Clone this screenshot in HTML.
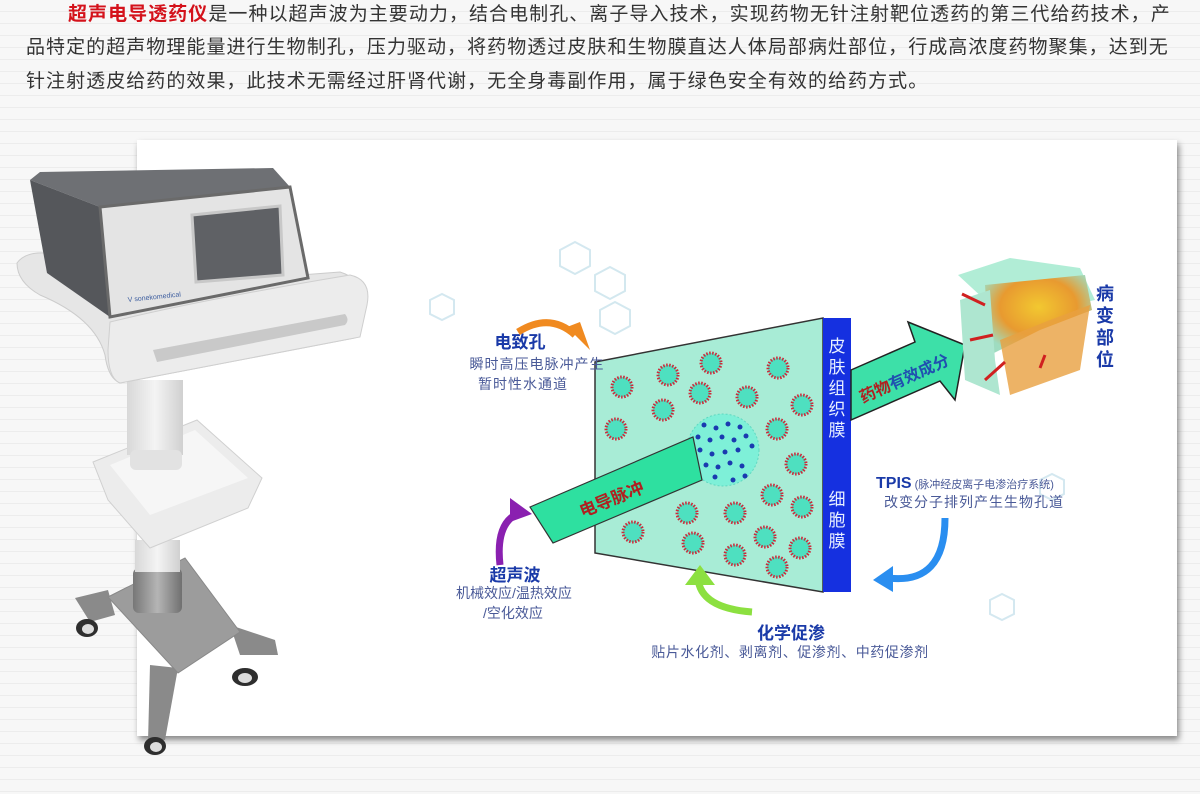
<!DOCTYPE html>
<html><head><meta charset="utf-8"><style>
html,body{margin:0;padding:0}
body{width:1200px;height:794px;overflow:hidden;position:relative;font-family:"Liberation Sans","Noto Sans CJK SC",sans-serif;
background:repeating-linear-gradient(180deg,#f7f7f7 0,#f7f7f7 11px,#ececec 11px,#ececec 12px);}
.t{position:absolute;left:26px;font-size:19px;letter-spacing:1.05px;color:#333;white-space:nowrap;line-height:24px}
.panel{position:absolute;left:137px;top:140px;width:1040px;height:596px;background:#fff;box-shadow:2px 4px 6px rgba(0,0,0,.45)}
</style></head><body>
<div class="t" style="top:3px;left:68px"><span style="color:#d4121b;font-weight:bold">超声电导透药仪</span>是一种以超声波为主要动力，结合电制孔、离子导入技术，实现药物无针注射靶位透药的第三代给药技术，产</div>
<div class="t" style="top:36px">品特定的超声物理能量进行生物制孔，压力驱动，将药物透过皮肤和生物膜直达人体局部病灶部位，行成高浓度药物聚集，达到无</div>
<div class="t" style="top:70px">针注射透皮给药的效果，此技术无需经过肝肾代谢，无全身毒副作用，属于绿色安全有效的给药方式。</div>
<div class="panel"></div>
<svg width="1200" height="794" style="position:absolute;left:0;top:0" font-family="Liberation Sans, Noto Sans CJK SC, sans-serif">
<defs>
<radialGradient id="cube" cx="50%" cy="40%" r="60%"><stop offset="0" stop-color="#f2c830"/><stop offset=".6" stop-color="#e89a30"/><stop offset="1" stop-color="#9fdcc0"/></radialGradient>
<linearGradient id="col" x1="0" x2="1"><stop offset="0" stop-color="#777"/><stop offset=".5" stop-color="#b5b5b5"/><stop offset="1" stop-color="#707070"/></linearGradient>
<linearGradient id="wh" x1="0" x2="1"><stop offset="0" stop-color="#d8d8d8"/><stop offset=".5" stop-color="#f4f4f4"/><stop offset="1" stop-color="#d0d0d0"/></linearGradient>
</defs>
<!-- molecule decorations -->
<g fill="none" stroke="#cfe6ee" stroke-width="2" opacity=".9">
<polygon points="560,250 575,242 590,250 590,266 575,274 560,266"/><polygon points="595,275 610,267 625,275 625,291 610,299 595,291"/>
<polygon points="600,310 615,302 630,310 630,326 615,334 600,326"/><polygon points="430,300 442,294 454,300 454,314 442,320 430,314"/>
<polygon points="990,600 1002,594 1014,600 1014,614 1002,620 990,614"/><polygon points="1040,480 1052,474 1064,480 1064,494 1052,500 1040,494"/>
</g>
<!-- trapezoid -->
<polygon points="595,362 823,318 823,592 595,553" fill="#a8ecd6" stroke="#333" stroke-width="1.5"/>
<rect x="823" y="318" width="28" height="274" fill="#1530e0"/>
<g font-size="17" fill="#e8f0ff" text-anchor="middle">
<text x="837" y="352">皮</text><text x="837" y="373">肤</text><text x="837" y="394">组</text><text x="837" y="415">织</text><text x="837" y="436">膜</text>
<text x="837" y="505">细</text><text x="837" y="526">胞</text><text x="837" y="547">膜</text></g>
<g fill="#4ee0c0" stroke="#cc2a3a" stroke-width="3" stroke-dasharray="1.5 1.5">
<circle cx="622" cy="387" r="10"/><circle cx="668" cy="375" r="10"/><circle cx="711" cy="363" r="10"/><circle cx="778" cy="368" r="10"/>
<circle cx="700" cy="393" r="10"/><circle cx="747" cy="397" r="10"/><circle cx="802" cy="405" r="10"/><circle cx="663" cy="410" r="10"/>
<circle cx="616" cy="429" r="10"/><circle cx="777" cy="429" r="10"/><circle cx="796" cy="464" r="10"/><circle cx="772" cy="495" r="10"/>
<circle cx="802" cy="507" r="10"/><circle cx="687" cy="513" r="10"/><circle cx="735" cy="513" r="10"/><circle cx="633" cy="532" r="10"/>
<circle cx="693" cy="543" r="10"/><circle cx="765" cy="537" r="10"/><circle cx="800" cy="548" r="10"/><circle cx="735" cy="555" r="10"/><circle cx="777" cy="567" r="10"/></g>
<circle cx="723" cy="450" r="36" fill="#7ef0d8" stroke="#5fd8c0" stroke-dasharray="2 2"/>
<g fill="#1a3ab0">
<circle cx="704" cy="425" r="2.5"/><circle cx="716" cy="428" r="2.5"/><circle cx="728" cy="424" r="2.5"/><circle cx="740" cy="427" r="2.5"/>
<circle cx="698" cy="437" r="2.5"/><circle cx="710" cy="440" r="2.5"/><circle cx="722" cy="437" r="2.5"/><circle cx="734" cy="440" r="2.5"/><circle cx="746" cy="436" r="2.5"/>
<circle cx="700" cy="450" r="2.5"/><circle cx="712" cy="454" r="2.5"/><circle cx="725" cy="452" r="2.5"/><circle cx="738" cy="450" r="2.5"/><circle cx="752" cy="446" r="2.5"/>
<circle cx="706" cy="465" r="2.5"/><circle cx="718" cy="467" r="2.5"/><circle cx="730" cy="463" r="2.5"/><circle cx="742" cy="466" r="2.5"/>
<circle cx="715" cy="477" r="2.5"/><circle cx="733" cy="480" r="2.5"/><circle cx="745" cy="476" r="2.5"/></g>
<!-- green band -->
<polygon points="530,507 693,437 702,480 553,543" fill="#2ee0a0" stroke="#333" stroke-width="1.2"/>
<text x="612" y="505" font-size="17" font-weight="bold" fill="#b02020" transform="rotate(-22 612 500)" text-anchor="middle">电导脉冲</text>
<!-- right arrow -->
<polygon points="851,370 915,342 908,322 965,345 955,400 940,381 851,420" fill="#3de0a8" stroke="#222" stroke-width="1.5"/>
<text x="905" y="384" font-size="16" font-weight="bold" fill="#2050b0" transform="rotate(-24 905 380)" text-anchor="middle"><tspan fill="#b02020">药物</tspan>有效成分</text>
<!-- cube -->
<polygon points="958,275 1010,258 1080,268 1095,300 1040,312 985,300" fill="#9ee8cc" opacity=".8"/>
<polygon points="985,285 1085,275 1092,310 1040,330 990,355" fill="url(#cube)"/>
<polygon points="960,300 990,290 995,360 1000,395 965,380" fill="#aee6d0"/>
<polygon points="1000,340 1050,320 1090,305 1080,370 1010,395" fill="#e8a040" opacity=".8"/>
<g stroke="#d02020" stroke-width="3"><line x1="962" y1="294" x2="985" y2="305"/><line x1="970" y1="340" x2="993" y2="335"/><line x1="985" y1="380" x2="1005" y2="362"/><line x1="1040" y1="368" x2="1045" y2="355"/></g>
<g font-size="18" font-weight="bold" fill="#1a3aa8" text-anchor="middle"><text x="1105" y="300">病</text><text x="1105" y="322">变</text><text x="1105" y="344">部</text><text x="1105" y="366">位</text></g>
<!-- labels -->
<text x="520" y="348" font-size="17" font-weight="bold" fill="#1a3aa8" text-anchor="middle">电致孔</text>
<text x="537" y="369" font-size="14" fill="#4a5a98" text-anchor="middle" letter-spacing="1">瞬时高压电脉冲产生</text>
<text x="523" y="389" font-size="14" fill="#4a5a98" text-anchor="middle" letter-spacing="1">暂时性水通道</text>
<text x="515" y="581" font-size="17" font-weight="bold" fill="#1a3aa8" text-anchor="middle">超声波</text>
<text x="514" y="598" font-size="14" fill="#4a5a98" text-anchor="middle">机械效应/温热效应</text>
<text x="513" y="618" font-size="14" fill="#4a5a98" text-anchor="middle">/空化效应</text>
<text x="791" y="639" font-size="17" font-weight="bold" fill="#1a3aa8" text-anchor="middle">化学促渗</text>
<text x="790" y="657" font-size="14" fill="#4a5a98" text-anchor="middle" letter-spacing="0.6">贴片水化剂、剥离剂、促渗剂、中药促渗剂</text>
<text x="876" y="488" font-size="16" font-weight="bold" fill="#1a3aa8">TPIS<tspan font-size="11" font-weight="normal" fill="#4a5a98"> (脉冲经皮离子电渗治疗系统)</tspan></text>
<text x="884" y="507" font-size="14" fill="#4a5a98" letter-spacing="1">改变分子排列产生生物孔道</text>
<!-- curved arrows -->
<path d="M518,332 Q550,312 575,335" fill="none" stroke="#f08a20" stroke-width="7"/><polygon points="567,327 590,350 580,322" fill="#f08a20"/>
<path d="M500,565 Q495,520 522,512" fill="none" stroke="#8a20b0" stroke-width="7"/><polygon points="510,498 532,514 510,522" fill="#8a20b0"/>
<path d="M752,612 Q700,608 698,578" fill="none" stroke="#8ce040" stroke-width="7"/><polygon points="685,585 700,565 715,585" fill="#8ce040"/>
<path d="M945,518 Q945,585 888,578" fill="none" stroke="#2a8ef0" stroke-width="7"/><polygon points="893,566 873,580 893,592" fill="#2a8ef0"/>
<!-- device -->
<!-- base -->
<polygon points="75,598 108,590 115,615 90,622" fill="#8a8a8a"/>
<polygon points="230,625 275,640 278,655 240,655" fill="#8a8a8a"/>
<polygon points="150,665 178,668 165,740 148,742" fill="#8a8a8a"/>
<polygon points="108,597 185,558 240,632 178,673" fill="#9c9c9c" stroke="#888"/>
<g fill="#2e2e2e"><ellipse cx="87" cy="628" rx="11" ry="9"/><ellipse cx="245" cy="677" rx="13" ry="9"/><ellipse cx="155" cy="746" rx="11" ry="9"/></g>
<g fill="#ddd"><ellipse cx="88" cy="629" rx="6" ry="5"/><ellipse cx="245" cy="678" rx="7" ry="5"/><ellipse cx="156" cy="747" rx="6" ry="5"/></g>
<rect x="133" y="568" width="49" height="45" rx="6" fill="url(#col)"/>
<rect x="135" y="540" width="45" height="32" fill="url(#wh)"/>
<!-- basket -->
<polygon points="93,462 197,420 262,478 248,508 150,548 108,500" fill="#ececec" stroke="#d0d0d0"/>
<polygon points="110,465 195,430 248,478 150,515" fill="#f6f6f6"/>
<!-- upper column -->
<rect x="127" y="380" width="56" height="75" fill="url(#wh)"/>
<rect x="130" y="450" width="52" height="20" rx="6" fill="#e2e2e2"/>
<!-- tray back -->
<path d="M17,263 Q25,252 45,253 L100,290 L340,272 Q360,278 365,300 L355,338 L120,383 Q108,378 105,355 Q95,318 40,295 Q17,282 17,263 Z" fill="#e6e6e6" stroke="#ccc"/>
<!-- box -->
<polygon points="30,180 40,172 273,168 290,187 100,207" fill="#6e7074"/>
<polygon points="30,180 100,207 110,317 47,273" fill="#55575b"/>
<polygon points="100,207 290,187 308,278 110,317" fill="#e4e4e4" stroke="#6a6a6a" stroke-width="3"/>
<polygon points="192,215 280,206 283,275 196,282" fill="#5f6165" stroke="#c8c8c8" stroke-width="3"/>
<text x="128" y="302" font-size="7" fill="#4060a0" transform="rotate(-6 128 302)">V sonekomedical</text>
<!-- handle front -->
<path d="M110,322 Q200,300 350,275 Q372,280 367,305 L360,337 L120,383 Q108,378 108,350 Z" fill="#ececec" stroke="#cfcfcf"/>
<path d="M153,350 L345,314 Q350,320 345,325 L157,362 Z" fill="#c9c9c9"/>
</svg>
</body></html>
